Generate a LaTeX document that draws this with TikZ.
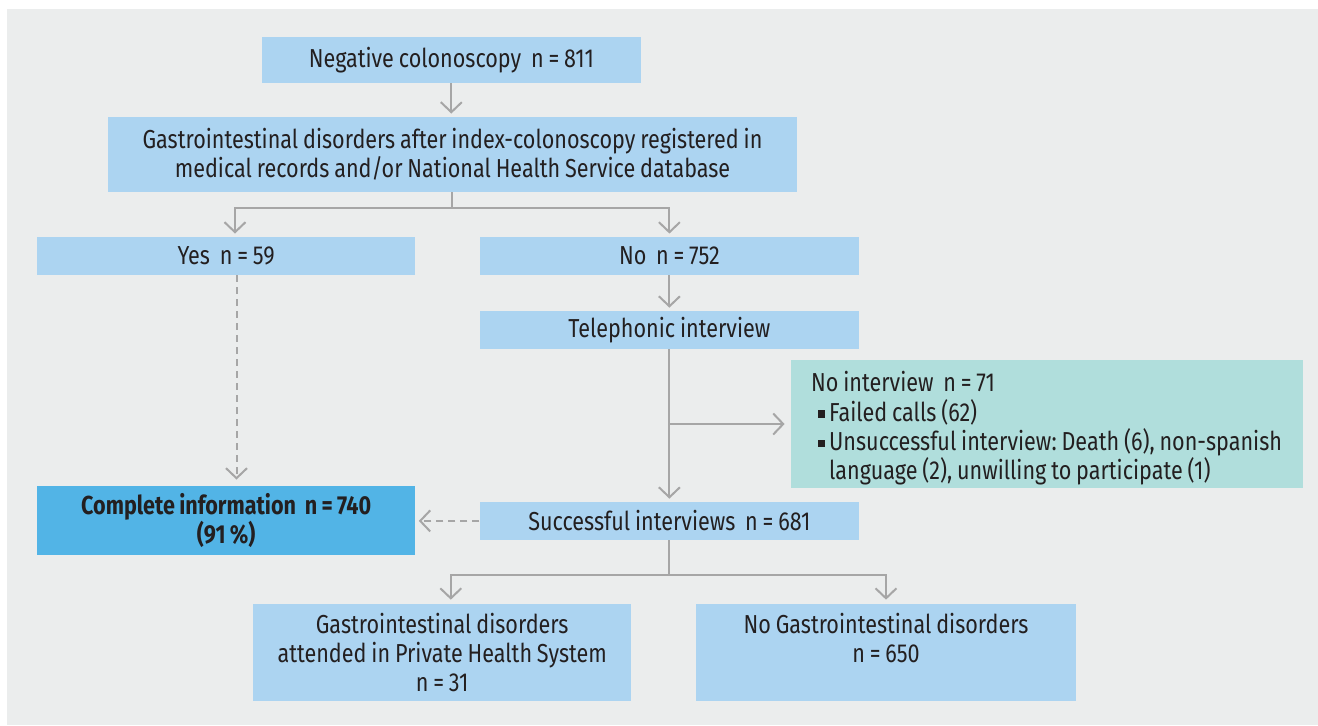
\documentclass[tikz,border=0pt]{standalone}
\usepackage{fontspec}
\setmainfont[FakeStretch=0.83,WordSpace=0.85]{Fira Sans}
\usepackage{tikz}
\usetikzlibrary{arrows.meta,positioning,calc}
\frenchspacing

\definecolor{bggray}{HTML}{EBEDED}
\definecolor{linegray}{HTML}{A6A6A6}
\definecolor{boxblue}{HTML}{ACD4F1}
\definecolor{darkblue}{HTML}{52B4E6}
\definecolor{boxteal}{HTML}{B0DEDC}
\definecolor{txtgray}{HTML}{231F20}

\newcommand{\sqbul}{\raisebox{0.25ex}{\rule{0.28em}{0.28em}}\,}

\begin{document}
\begin{tikzpicture}[x=0.5pt,y=-0.5pt,
    flowbox/.style={fill=boxblue, inner sep=0pt, align=center, text=txtgray,
        font=\fontsize{13}{14.6}\selectfont},
    line/.style={draw=linegray, line width=1pt},
    arr/.style={line, -{Straight Barb[length=5pt,width=10.5pt]}, shorten >=1.5pt},
    dasharr/.style={arr, dash pattern=on 3.5pt off 2.5pt}
  ]
  \useasboundingbox (0,0) rectangle (1318,725);
  \fill[bggray] (7,9) rectangle (1318,725);

  \node[flowbox, minimum width=189.3pt, minimum height=22.85pt] (neg) at (451.3,59.9)
    {Negative colonoscopy\ \ n = 811};
  \node[flowbox, minimum width=344.5pt, minimum height=37.35pt] (gastro) at (452.5,154.3)
    {Gastrointestinal disorders after index-colonoscopy registered in\\
     medical records and/or National Health Service database};
  \node[flowbox, minimum width=189.2pt, minimum height=18.85pt] (yes) at (226.2,255.8)
    {Yes\ \ n = 59};
  \node[flowbox, minimum width=189.6pt, minimum height=18.85pt] (no) at (669.4,255.8)
    {No\ \ n = 752};
  \node[flowbox, minimum width=189.6pt, minimum height=18.85pt] (tel) at (669.4,329.9)
    {Telephonic interview};
  \node[flowbox, fill=boxteal, align=left, minimum width=256.1pt, minimum height=63.7pt]
    (nointv) at (1046.6,424)
    {\rule{0pt}{14.5pt}No interview\ \ n = 71\\
     \hspace*{3.2pt}\sqbul Failed calls (62)\\
     \hspace*{3.2pt}\sqbul Unsuccessful interview: Death (6), non-spanish\\
     \hspace*{3.2pt}\phantom{\sqbul}language (2), unwilling to participate (1)};
  \node[flowbox, minimum width=189.6pt, minimum height=18.85pt] (succ) at (669.4,520.9)
    {Successful interviews\ \ n = 681};
  \node[flowbox, fill=darkblue, minimum width=189.2pt, minimum height=34.35pt,
        font=\fontsize{13}{14.6}\selectfont\bfseries] (complete) at (226.2,520.3)
    {Complete information\ \ n = 740\\(91\,\%)};
  \node[flowbox, minimum width=189.15pt, minimum height=48.65pt] (gipriv) at (442.2,652.7)
    {Gastrointestinal disorders\\attended in Private Health System\\n = 31};
  \node[flowbox, minimum width=189.8pt, minimum height=48.65pt] (nogi) at (886,652.7)
    {No Gastrointestinal disorders\\n = 650\\~};

  \coordinate (split1) at (452.4,208.3);
  \coordinate (split2) at (tel.south |- nointv.west);
  \coordinate (split3) at (669.4,575);

  \draw[arr] (neg.south) -- (neg.south |- gastro.north);
  \draw[line] (gastro.south -| split1) -- (split1);
  \draw[arr] (split1) -| ([xshift=4.4pt]yes.north);
  \draw[arr] (split1) -| (no.north);
  \draw[arr] (no) -- (tel);
  \draw[arr] (tel) -- (succ);
  \draw[arr, shorten >=2.75pt] (split2) -- (nointv.west);
  \draw[dasharr, shorten >=3pt] ([xshift=5.15pt]yes.south) -- ([xshift=5.15pt]yes.south |- complete.north);
  \draw[dasharr] (succ.west) -- (succ.west -| complete.east);
  \draw[line] (succ.south) -- (split3);
  \draw[arr, shorten >=2pt] (split3) -| ([xshift=4.3pt]gipriv.north);
  \draw[arr, shorten >=2pt] (split3) -| (nogi.north);
\end{tikzpicture}
\end{document}
